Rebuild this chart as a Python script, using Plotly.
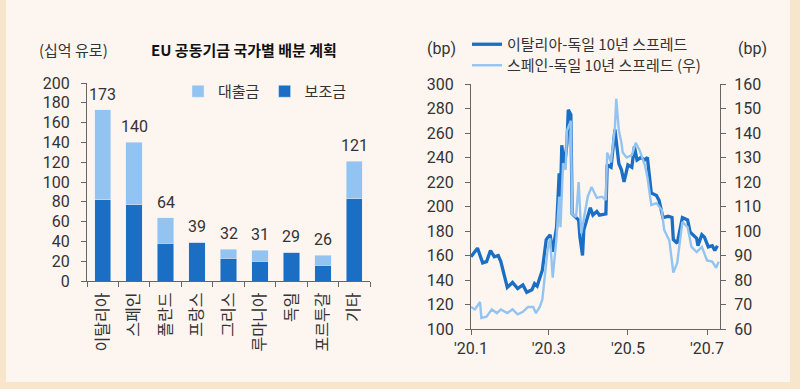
import plotly.graph_objects as go

# ---------------- data ----------------
countries = ["이탈리아", "스페인", "폴란드", "프랑스", "그리스", "루마니아", "독일", "포르투갈", "기타"]
grants = [82, 77, 38, 39, 23, 20, 29, 16, 83]
loans = [91, 63, 26, 0, 9, 11, 0, 10, 38]
totals = [173, 140, 64, 39, 32, 31, 29, 26, 121]

it_dates = ["2020-01-01", "2020-01-06", "2020-01-10", "2020-01-13", "2020-01-16", "2020-01-19", "2020-01-22", "2020-01-24",
            "2020-01-29", "2020-02-02", "2020-02-06", "2020-02-10", "2020-02-13", "2020-02-17", "2020-02-19", "2020-02-21",
            "2020-02-25", "2020-02-28", "2020-03-02", "2020-03-04", "2020-03-07", "2020-03-09", "2020-03-10", "2020-03-11",
            "2020-03-13", "2020-03-15", "2020-03-16", "2020-03-18", "2020-03-19", "2020-03-22", "2020-03-24", "2020-03-25",
            "2020-03-27", "2020-03-28", "2020-03-31", "2020-04-02", "2020-04-04", "2020-04-07", "2020-04-09", "2020-04-14",
            "2020-04-15", "2020-04-18", "2020-04-21", "2020-04-24", "2020-04-26", "2020-04-28", "2020-05-01", "2020-05-04",
            "2020-05-06", "2020-05-08", "2020-05-11", "2020-05-14", "2020-05-16", "2020-05-19", "2020-05-23", "2020-05-25",
            "2020-05-28", "2020-06-01", "2020-06-04", "2020-06-05", "2020-06-08", "2020-06-12", "2020-06-16", "2020-06-18",
            "2020-06-23", "2020-06-24", "2020-06-27", "2020-06-29", "2020-07-02", "2020-07-05", "2020-07-07", "2020-07-09"]
it_spread = [159, 166, 154, 155, 164, 159, 160, 155,
             134, 138, 133, 136, 130, 132, 137, 135,
             148, 173, 177, 163, 183, 227, 208, 250,
             232, 252, 279, 275, 194, 191, 189, 175,
             160, 181, 191, 199, 193, 196, 193, 194,
             234, 232, 263, 235, 230, 220, 234, 232,
             249, 238, 240, 238, 240, 211, 209, 205,
             191, 192, 191, 173, 170, 191, 189, 179,
             174, 168, 177, 175, 167, 168, 164, 168]

sp_dates = ["2020-01-01", "2020-01-04", "2020-01-08", "2020-01-09", "2020-01-13", "2020-01-17", "2020-01-21", "2020-01-24",
            "2020-01-29", "2020-02-02", "2020-02-06", "2020-02-10", "2020-02-14", "2020-02-18", "2020-02-20", "2020-02-23",
            "2020-02-25", "2020-02-27", "2020-02-29", "2020-03-02", "2020-03-04", "2020-03-07", "2020-03-09", "2020-03-10",
            "2020-03-12", "2020-03-14", "2020-03-15", "2020-03-18", "2020-03-19", "2020-03-22", "2020-03-24", "2020-03-26",
            "2020-03-28", "2020-03-31", "2020-04-03", "2020-04-05", "2020-04-07", "2020-04-11", "2020-04-14", "2020-04-15",
            "2020-04-18", "2020-04-21", "2020-04-22", "2020-04-24", "2020-04-26", "2020-04-27", "2020-04-30", "2020-05-04",
            "2020-05-07", "2020-05-10", "2020-05-14", "2020-05-16", "2020-05-19", "2020-05-23", "2020-05-27", "2020-05-29",
            "2020-06-02", "2020-06-05", "2020-06-08", "2020-06-12", "2020-06-16", "2020-06-19", "2020-06-23", "2020-06-27",
            "2020-07-01", "2020-07-05", "2020-07-08", "2020-07-10"]
sp_spread = [69, 68, 71, 64.5, 65, 68, 66.5, 68,
             66.5, 68, 66, 67, 69, 69, 66.5, 69,
             72, 82, 92, 97, 81, 97.5, 114, 101.6,
             127.7, 125, 141, 145, 107, 105.7, 120, 99,
             104.5, 114, 118, 115.5, 113.5, 114, 112.7, 132,
             128, 142.5, 154, 141, 136, 132, 130, 131,
             136, 133, 127, 122, 110.6, 111.4, 108.6, 100.4,
             96, 83, 87, 103.7, 101.6, 93.5, 91.4, 93.5,
             88, 87.5, 85, 87.5]

x_tickvals = ["2020-01-01", "2020-03-01", "2020-05-01", "2020-07-01"]
x_ticktext = ["'20.1", "'20.3", "'20.5", "'20.7"]

# ---------------- style ----------------
FONT = "Noto Sans CJK KR"
NUMFONT = "Roboto"
TXT = "#333333"
AX = "#666666"
DARK = "#1a6fc4"
LIGHT = "#93c4f1"
FRAME = "#f8e6cc"
INNER = "#fdf6f0"

W, H = 800, 389


def px_x(p):
    return p / W


def px_y(p):
    return 1 - p / H


fig = go.Figure()

fig.add_trace(go.Bar(x=countries, y=grants, name="보조금", marker_color=DARK, width=0.52,
                     legend="legend", legendrank=2, xaxis="x", yaxis="y"))
fig.add_trace(go.Bar(x=countries, y=loans, name="대출금", marker_color=LIGHT, width=0.52,
                     legend="legend", legendrank=1, xaxis="x", yaxis="y"))

fig.add_trace(go.Scatter(x=sp_dates, y=sp_spread, mode="lines", name="스페인-독일 10년 스프레드 (우)",
                         line=dict(color=LIGHT, width=2.4), legend="legend3",
                         xaxis="x2", yaxis="y3"))
fig.add_trace(go.Scatter(x=it_dates, y=it_spread, mode="lines", name="이탈리아-독일 10년 스프레드",
                         line=dict(color=DARK, width=3.3), legend="legend2",
                         xaxis="x2", yaxis="y2"))

axis_common = dict(showline=True, linecolor=AX, linewidth=1.3, ticks="outside", tickcolor=AX,
                   ticklen=5, tickwidth=1.3, showgrid=False, zeroline=False, automargin=False,
                   tickfont=dict(size=16, color=TXT, family=NUMFONT))

legend_font = dict(size=15, color=TXT, family=FONT)

annotations = [
    dict(text="(십억 유로)", x=px_x(73), y=px_y(50), font=dict(size=15, color=TXT, family=FONT)),
    dict(text="<b>EU 공동기금 국가별 배분 계획</b>", x=px_x(244), y=px_y(50),
         font=dict(size=15, color="#111111", family=FONT)),
    dict(text="(bp)", x=px_x(441), y=px_y(48), font=dict(size=16, color=TXT, family=NUMFONT)),
    dict(text="(bp)", x=px_x(752), y=px_y(48), font=dict(size=16, color=TXT, family=NUMFONT)),
]
for a in annotations:
    a.update(xref="paper", yref="paper", showarrow=False, xanchor="center", yanchor="middle")

# total labels above the stacked bars
for c, t in zip(countries, totals):
    annotations.append(dict(x=c, y=t, xref="x", yref="y", text=str(t), showarrow=False,
                            xanchor="center", yanchor="bottom", yshift=4,
                            font=dict(size=16, color=TXT, family=NUMFONT)))

fig.update_layout(
    width=W, height=H,
    margin=dict(l=0, r=0, t=0, b=0, autoexpand=False),
    paper_bgcolor=FRAME, plot_bgcolor=INNER,
    font=dict(family=FONT, color=TXT),
    barmode="stack",
    showlegend=True,
    xaxis=dict(domain=[px_x(87), px_x(370)], anchor="y", type="category", tickson="boundaries",
               tickangle=-90, ticklabelstandoff=4,
               **{**axis_common, "tickfont": dict(size=16, color=TXT, family=FONT)}),
    yaxis=dict(domain=[px_y(281), px_y(83)], anchor="x", range=[0, 200], dtick=20,
               ticklabelstandoff=8, **axis_common),
    xaxis2=dict(domain=[px_x(471), px_x(720)], anchor="y2", type="date",
                range=["2020-01-01", "2020-07-11"], tickvals=x_tickvals, ticktext=x_ticktext,
                **axis_common),
    yaxis2=dict(domain=[px_y(329), px_y(84)], anchor="x2", range=[100, 300], dtick=20,
                ticklabelstandoff=8, **axis_common),
    yaxis3=dict(overlaying="y2", anchor="x2", side="right", range=[60, 160], dtick=10,
                ticklabelstandoff=5, **axis_common),
    legend=dict(orientation="h", x=px_x(178), y=px_y(75), xanchor="left", yanchor="top",
                bgcolor="rgba(0,0,0,0)", font=legend_font, itemwidth=30, traceorder="normal"),
    legend2=dict(orientation="v", x=px_x(467), y=px_y(28), xanchor="left", yanchor="top",
                 bgcolor="rgba(0,0,0,0)", font=legend_font),
    legend3=dict(orientation="v", x=px_x(467), y=px_y(49), xanchor="left", yanchor="top",
                 bgcolor="rgba(0,0,0,0)", font=legend_font),
    shapes=[dict(type="rect", xref="paper", yref="paper", x0=px_x(6), x1=px_x(790), y0=px_y(382), y1=1.0,
                 fillcolor=INNER, line=dict(width=0), layer="below")],
    annotations=annotations,
)

fig.write_html("out.html", config={"displayModeBar": False},
               post_script="document.body.style.margin='0';document.body.style.overflow='hidden';")
